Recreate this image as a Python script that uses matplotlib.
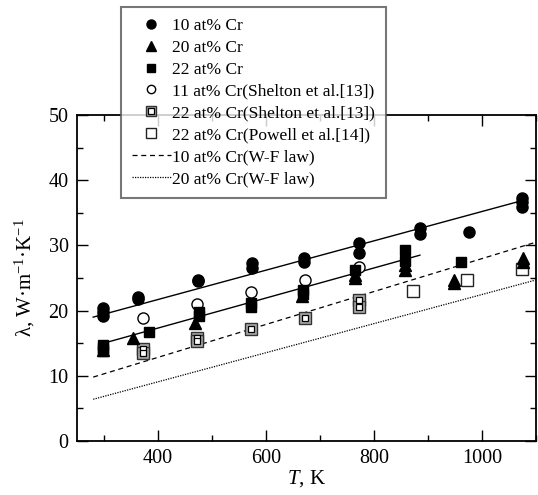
import matplotlib
matplotlib.use("Agg")
import matplotlib.pyplot as plt
from matplotlib.lines import Line2D
from matplotlib.legend_handler import HandlerTuple
import numpy as np

plt.rcParams['font.family'] = ['Liberation Serif', 'DejaVu Serif']
plt.rcParams['mathtext.fontset'] = 'custom'
plt.rcParams['mathtext.rm'] = 'Liberation Serif'
plt.rcParams['mathtext.it'] = 'Liberation Serif:italic'
plt.rcParams['xtick.direction'] = 'in'
plt.rcParams['ytick.direction'] = 'in'

# ---- data ----
T_cr10 = [298, 298, 298, 363, 363, 474, 474, 575, 575, 671, 671, 773, 773, 886, 886, 976, 1074, 1074, 1074]
L_cr10 = [20.4, 19.8, 19.2, 22.1, 21.8, 24.7, 24.5, 27.3, 26.6, 28.0, 27.4, 30.3, 28.8, 32.6, 31.8, 32.0, 37.2, 36.6, 35.9]

T_cr20 = [298, 354, 468, 666, 764, 764, 858, 858, 949, 949, 1076, 1076]
L_cr20 = [14.0, 15.8, 18.1, 22.2, 25.0, 25.5, 26.2, 27.0, 24.7, 24.2, 28.0, 27.5]

T_cr22 = [298, 298, 298, 383, 476, 476, 572, 572, 668, 668, 764, 858, 858, 961]
L_cr22 = [14.8, 14.2, 13.8, 16.7, 19.8, 19.2, 21.2, 20.6, 23.2, 22.5, 26.2, 29.3, 27.6, 27.5]

T_sh11 = [372, 472, 572, 673, 773]
L_sh11 = [18.9, 21.0, 22.8, 24.7, 26.7]

T_sh22 = [372, 372, 472, 472, 573, 673, 773, 773]
L_sh22 = [14.1, 13.5, 15.8, 15.3, 17.2, 18.9, 21.6, 20.6]

T_pw22 = [873, 973, 1075]
L_pw22 = [23.0, 24.7, 26.4]

# fitted solid lines (end points)
T_fit10 = [280, 1080]
L_fit10 = [19.0, 37.0]
T_fit22 = [295, 885]
L_fit22 = [14.9, 28.5]

# W-F law lines
T_wf = [280, 1100]
L_wf10 = [9.8, 30.5]
L_wf20 = [6.4, 24.7]

labels = ["10 at% Cr", "20 at% Cr", "22 at% Cr",
          "11 at% Cr(Shelton et al.[13])", "22 at% Cr(Shelton et al.[13])",
          "22 at% Cr(Powell et al.[14])", "10 at% Cr(W-F law)", "20 at% Cr(W-F law)"]

fig = plt.figure(figsize=(5.38, 4.95), dpi=100)
ax = fig.add_axes([77/538, 1-441/495, (536-77)/538, (441-115)/495])

ax.plot(T_fit10, L_fit10, color='black', lw=1.0)
ax.plot(T_fit22, L_fit22, color='black', lw=1.0)
ax.plot(T_wf, L_wf10, color='black', lw=0.9, ls=(0, (4, 3)))
ax.plot(T_wf, L_wf20, color='black', lw=0.9, ls=(0, (1, 1)))

ax.plot(T_sh22, L_sh22, 's', ms=8.5, mfc='#a8a8a8', mec='#333333', mew=1.0, ls='none')
ax.plot(T_sh22, L_sh22, 's', ms=4.5, mfc='white', mec='black', mew=0.9, ls='none')
ax.plot(T_pw22, L_pw22, 's', ms=8, mfc='white', mec='#222222', mew=1.0, ls='none')
ax.plot(T_sh11, L_sh11, 'o', ms=8, mfc='white', mec='black', mew=1.0, ls='none')
ax.plot(T_cr22, L_cr22, 's', ms=7.5, color='black', ls='none')
ax.plot(T_cr20, L_cr20, '^', ms=8, color='black', ls='none')
ax.plot(T_cr10, L_cr10, 'o', ms=8, color='black', ls='none')

ax.set_xlim(250, 1100)
ax.set_ylim(0, 50)
ax.set_xticks([400, 600, 800, 1000])
ax.set_xticks(np.arange(300, 1101, 100), minor=True)
ax.set_yticks(np.arange(0, 51, 10))
ax.set_yticks(np.arange(0, 51, 5), minor=True)
ax.tick_params(which='both', direction='in', top=True, right=True, labelsize=14.5, width=1.0)
ax.tick_params(which='major', length=8, pad=6)
ax.tick_params(which='minor', length=4.5)
for s in ax.spines.values():
    s.set_linewidth(1.3)

ax.set_xlabel(r"$\it{T}$, K", fontsize=15, labelpad=0)
ax.set_ylabel(r"λ, W·m$^{-1}$·K$^{-1}$", fontsize=15, labelpad=8)

# legend handles
h1 = Line2D([], [], marker='o', ms=6.5, color='black', ls='none')
h2 = Line2D([], [], marker='^', ms=6.5, color='black', ls='none')
h3 = Line2D([], [], marker='s', ms=6, color='black', ls='none')
h4 = Line2D([], [], marker='o', ms=6, mfc='white', mec='black', mew=1.0, ls='none')
h5a = Line2D([], [], marker='s', ms=7, mfc='#a8a8a8', mec='#333333', mew=1.0, ls='none')
h5b = Line2D([], [], marker='s', ms=3.8, mfc='white', mec='black', mew=0.9, ls='none')
h6 = Line2D([], [], marker='s', ms=6.5, mfc='white', mec='#222222', mew=1.0, ls='none')
h7 = Line2D([], [], color='black', lw=0.9, ls=(0, (4, 3)))
h8 = Line2D([], [], color='black', lw=0.9, ls=(0, (1, 1)))

leg = fig.legend([h1, h2, h3, h4, (h5a, h5b), h6, h7, h8], labels,
                 handler_map={tuple: HandlerTuple(ndivide=1, pad=0)},
                 loc='upper left', bbox_to_anchor=(121/538, 1-7/495),
                 bbox_transform=fig.transFigure, borderaxespad=0,
                 fontsize=12.5, labelspacing=0.33, handlelength=2.24,
                 handletextpad=0.1, borderpad=0.62, numpoints=1,
                 fancybox=False, frameon=True)
leg.get_frame().set_edgecolor('#555555')
leg.get_frame().set_linewidth(1.5)

fig.savefig("out.png", dpi=100)
